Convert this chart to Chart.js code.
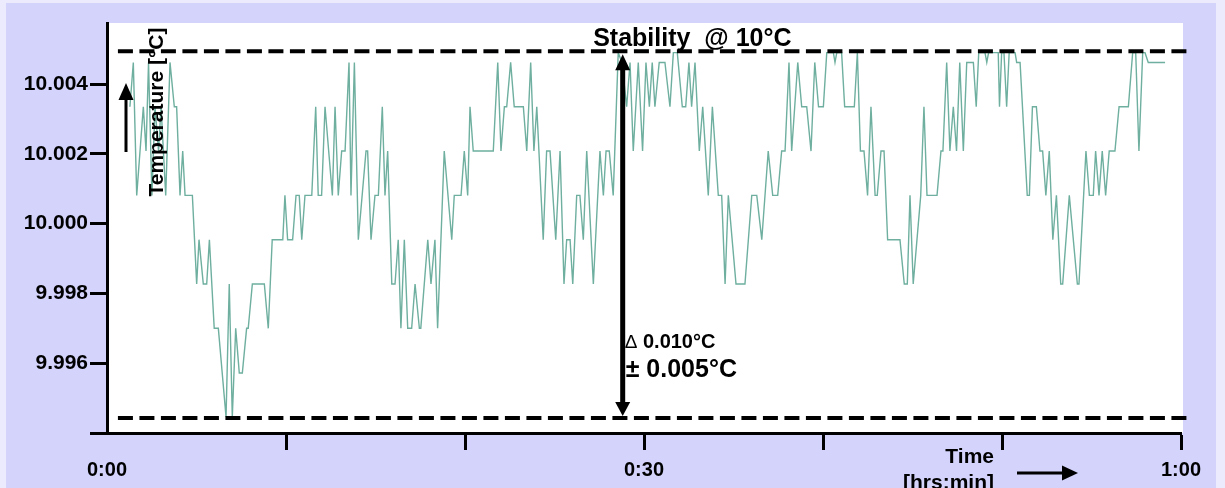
<!DOCTYPE html>
<html>
<head>
<meta charset="utf-8">
<title>Stability @ 10°C</title>
<script src="https://cdn.jsdelivr.net/npm/chart.js@4.4.1/dist/chart.umd.min.js"></script>
<style>
    html, body { margin: 0; padding: 0; background: #ebebfd; }
    #wrap { position: relative; width: 1225px; height: 488px; overflow: hidden; }
    #stabilityChart { position: absolute; left: 0; top: 0; }
</style>
</head>
<body>
<div id="wrap"><canvas id="stabilityChart" width="1225" height="488"></canvas></div>
<script>
// sample times in minutes
const times = [
    1.28, 1.47, 1.66, 2.03, 2.18, 2.32, 2.51, 2.68, 2.88, 3.02,
    3.28, 3.52, 3.76, 3.89, 4.08, 4.23, 4.36, 4.77, 5.01, 5.14,
    5.38, 5.57, 5.72, 5.99, 6.22, 6.65, 6.83, 7.00, 7.19, 7.39,
    7.56, 7.80, 7.89, 8.12, 8.79, 9.01, 9.23, 9.82, 9.94, 10.09,
    10.37, 10.56, 10.74, 10.88, 11.06, 11.44, 11.66, 11.80, 11.99, 12.18,
    12.59, 12.74, 12.92, 13.11, 13.30, 13.52, 13.63, 13.82, 14.04, 14.47,
    14.56, 14.75, 14.97, 15.16, 15.38, 15.53, 15.68, 15.91, 16.09, 16.27,
    16.42, 16.61, 16.80, 17.02, 17.21, 17.45, 17.53, 17.92, 18.10, 18.32,
    18.47, 18.84, 19.26, 19.40, 19.78, 19.96, 20.15, 20.28, 20.46, 21.58,
    21.83, 22.01, 22.20, 22.33, 22.55, 22.75, 23.26, 23.45, 23.67, 23.85,
    24.01, 24.37, 24.56, 24.75, 25.07, 25.31, 25.53, 25.68, 25.87, 26.02,
    26.24, 26.42, 26.61, 26.80, 27.17, 27.54, 27.73, 27.88, 28.06, 28.28,
    28.56, 28.77, 29.03, 29.22, 29.40, 29.68, 29.92, 30.11, 30.30, 30.46,
    30.61, 30.85, 31.17, 31.45, 31.64, 31.86, 32.14, 32.33, 32.51, 32.66,
    32.85, 33.09, 33.28, 33.59, 33.82, 34.15, 34.34, 34.53, 34.71, 35.14,
    35.64, 36.02, 36.30, 36.58, 36.94, 37.19, 37.47, 37.69, 37.88, 38.10,
    38.25, 38.59, 38.81, 39.09, 39.33, 39.54, 39.75, 40.02, 40.21, 40.58,
    40.67, 40.77, 41.04, 41.21, 41.75, 41.92, 42.09, 42.29, 42.49, 42.68,
    42.91, 43.03, 43.24, 43.41, 43.61, 44.30, 44.54, 44.71, 44.86, 45.04,
    45.46, 45.64, 45.81, 46.37, 46.59, 46.70, 46.91, 47.09, 47.28, 47.46,
    47.64, 47.84, 48.03, 48.40, 48.56, 48.70, 49.05, 49.15, 49.25, 49.79,
    49.86, 49.98, 50.11, 50.26, 50.40, 50.73, 50.82, 51.01, 51.41, 51.53,
    51.70, 51.92, 52.12, 52.27, 52.45, 52.64, 52.84, 53.04, 53.28, 53.39,
    53.76, 54.21, 54.30, 54.69, 54.88, 55.10, 55.23, 55.42, 55.60, 55.79,
    55.99, 56.31, 56.54, 57.06, 57.30, 57.47, 57.65, 57.86, 57.99, 58.17,
    59.11
];

// temperature readings in °C
const temps = [
    10.00335, 10.00462, 10.00081, 10.00335, 10.00208, 10.00462, 10.00081, 10.00335, 10.00208, 10.00335,
    10.00081, 10.00462, 10.00335, 10.00335, 10.00081, 10.00208, 10.00081, 10.00081, 9.99827, 9.99954,
    9.99827, 9.99827, 9.99954, 9.99700, 9.99700, 9.99446, 9.99827, 9.99446, 9.99700, 9.99572,
    9.99572, 9.99700, 9.99700, 9.99827, 9.99827, 9.99700, 9.99954, 9.99954, 10.00081, 9.99954,
    9.99954, 10.00081, 10.00081, 9.99954, 10.00081, 10.00081, 10.00335, 10.00081, 10.00081, 10.00335,
    10.00081, 10.00335, 10.00081, 10.00208, 10.00208, 10.00462, 10.00081, 10.00462, 9.99954, 10.00208,
    10.00208, 9.99954, 10.00081, 10.00081, 10.00335, 10.00081, 10.00208, 9.99827, 9.99827, 9.99954,
    9.99700, 9.99954, 9.99700, 9.99700, 9.99827, 9.99700, 9.99700, 9.99954, 9.99827, 9.99954,
    9.99700, 10.00208, 9.99954, 10.00081, 10.00081, 10.00208, 10.00081, 10.00335, 10.00208, 10.00208,
    10.00462, 10.00208, 10.00335, 10.00335, 10.00462, 10.00335, 10.00335, 10.00208, 10.00462, 10.00208,
    10.00335, 9.99954, 10.00208, 10.00208, 9.99954, 10.00208, 9.99827, 9.99954, 9.99954, 9.99827,
    10.00081, 10.00081, 9.99954, 10.00208, 9.99827, 10.00208, 10.00081, 10.00208, 10.00208, 10.00081,
    10.00490, 10.00462, 10.00335, 10.00462, 10.00208, 10.00462, 10.00208, 10.00462, 10.00335, 10.00462,
    10.00335, 10.00462, 10.00462, 10.00335, 10.00490, 10.00490, 10.00335, 10.00335, 10.00462, 10.00335,
    10.00462, 10.00208, 10.00335, 10.00081, 10.00335, 10.00081, 10.00081, 9.99827, 10.00081, 9.99827,
    9.99827, 10.00081, 10.00081, 9.99954, 10.00208, 10.00081, 10.00081, 10.00208, 10.00208, 10.00462,
    10.00208, 10.00462, 10.00335, 10.00335, 10.00208, 10.00462, 10.00335, 10.00335, 10.00490, 10.00490,
    10.00462, 10.00490, 10.00490, 10.00335, 10.00335, 10.00490, 10.00208, 10.00208, 10.00081, 10.00335,
    10.00081, 10.00081, 10.00208, 10.00208, 9.99954, 9.99954, 9.99827, 9.99827, 10.00081, 9.99827,
    10.00081, 10.00335, 10.00081, 10.00081, 10.00208, 10.00208, 10.00462, 10.00208, 10.00335, 10.00208,
    10.00462, 10.00208, 10.00462, 10.00462, 10.00335, 10.00490, 10.00490, 10.00462, 10.00490, 10.00490,
    10.00335, 10.00490, 10.00490, 10.00335, 10.00490, 10.00490, 10.00462, 10.00462, 10.00081, 10.00081,
    10.00335, 10.00335, 10.00208, 10.00208, 10.00081, 10.00208, 9.99954, 10.00081, 9.99827, 9.99827,
    10.00081, 9.99827, 9.99827, 10.00208, 10.00081, 10.00081, 10.00208, 10.00081, 10.00208, 10.00081,
    10.00208, 10.00208, 10.00335, 10.00335, 10.00490, 10.00490, 10.00208, 10.00490, 10.00490, 10.00462,
    10.00462
];

const yTickValues = [9.994, 9.996, 9.998, 10.000, 10.002, 10.004];
const xTickValues = [0, 10, 20, 30, 40, 50, 60];
const xTickLabels = { 0: '0:00', 30: '0:30', 60: '1:00' };

// stability band (±0.005 °C around the set point)
const upperLimit = 10.00494;
const lowerLimit = 9.99443;
const limitTimes = [0.61, 60.5];
const bandArrowTime = 28.81;

const FONT = "'Liberation Sans', Arial, sans-serif";

function arrowHead(ctx, x, y, dir, w, h) {
    ctx.beginPath();
    if (dir === 'up') {
        ctx.moveTo(x, y); ctx.lineTo(x - w / 2, y + h); ctx.lineTo(x + w / 2, y + h);
    } else if (dir === 'down') {
        ctx.moveTo(x, y); ctx.lineTo(x - w / 2, y - h); ctx.lineTo(x + w / 2, y - h);
    } else {
        ctx.moveTo(x, y); ctx.lineTo(x - h, y - w / 2); ctx.lineTo(x - h, y + w / 2);
    }
    ctx.closePath();
    ctx.fill();
}

const backdrop = {
    id: 'backdrop',
    beforeDraw(chart) {
        const { ctx, chartArea: a } = chart;
        ctx.save();
        ctx.fillStyle = '#ebebfd';
        ctx.fillRect(0, 0, chart.width, chart.height);
        ctx.fillStyle = '#d3d3fc';
        ctx.fillRect(6, 3, 1210, 485);
        ctx.fillStyle = '#ffffff';
        ctx.fillRect(a.left, a.top, a.right - a.left + 2, a.bottom - a.top);
        ctx.restore();
    }
};

const annotations = {
    id: 'annotations',
    afterDraw(chart) {
        const { ctx, chartArea: a } = chart;
        const xs = chart.scales.x;
        const ys = chart.scales.y;
        const upY = ys.getPixelForValue(upperLimit);
        const loY = ys.getPixelForValue(lowerLimit);
        const ax = xs.getPixelForValue(bandArrowTime);

        ctx.save();
        ctx.fillStyle = '#000';
        ctx.strokeStyle = '#000';

        // span arrow between the limits
        ctx.fillRect(ax - 2.5, upY + 14, 5, loY - upY - 26);
        arrowHead(ctx, ax, upY + 3, 'up', 15, 16);
        arrowHead(ctx, ax, loY - 2, 'down', 15, 14);

        // title
        ctx.textBaseline = 'alphabetic';
        ctx.textAlign = 'center';
        ctx.font = 'bold 25px ' + FONT;
        ctx.fillText('Stability  @ 10°C', xs.getPixelForValue(32.7), upY - 5);

        // band labels
        ctx.textAlign = 'left';
        ctx.font = '19px ' + FONT;
        ctx.fillText('Δ', ax + 2, loY - 70);
        const dw = ctx.measureText('Δ').width;
        ctx.font = 'bold 20px ' + FONT;
        ctx.fillText(' 0.010°C', ax + 2 + dw, loY - 70);
        ctx.font = 'bold 25px ' + FONT;
        ctx.fillText('± 0.005°C', ax + 3, loY - 41);

        // y axis title with arrow
        ctx.save();
        ctx.translate(a.left + 56, 112);
        ctx.rotate(-Math.PI / 2);
        ctx.textAlign = 'center';
        ctx.font = 'bold 21px ' + FONT;
        ctx.fillText('Temperature [°C]', 0, 0);
        ctx.restore();
        ctx.fillRect(a.left + 17.5, 98, 3, 54);
        arrowHead(ctx, a.left + 19, 83, 'up', 15, 17);

        // x axis title with arrow
        ctx.textAlign = 'right';
        ctx.font = 'bold 21px ' + FONT;
        ctx.fillText('Time', 994, 463);
        ctx.fillText('[hrs:min]', 994, 489);
        ctx.fillRect(1017, 471.5, 47, 3);
        arrowHead(ctx, 1078, 473, 'right', 15, 16);

        ctx.restore();
    }
};

const limitLine = (value) => ({
    data: limitTimes.map(t => ({ x: t, y: value })),
    borderColor: '#000',
    borderWidth: 4,
    borderDash: [15, 6.5],
    pointRadius: 0,
    clip: false
});

const axisFont = { family: FONT, weight: 'bold' };

new Chart(document.getElementById('stabilityChart'), {
    type: 'line',
    data: {
        datasets: [
            limitLine(upperLimit),
            limitLine(lowerLimit),
            {
                label: 'Temperature',
                data: times.map((t, i) => ({ x: t, y: temps[i] })),
                borderColor: '#6eaf9f',
                borderWidth: 1.4,
                pointRadius: 0,
                tension: 0
            }
        ]
    },
    options: {
        responsive: false,
        animation: false,
        devicePixelRatio: 1,
        events: [],
        layout: { padding: { left: 6, top: 23, right: 44, bottom: 0 } },
        plugins: {
            legend: { display: false },
            tooltip: { enabled: false }
        },
        scales: {
            x: {
                type: 'linear',
                min: 0,
                max: 60,
                afterFit: (s) => { s.height = 55; },
                afterBuildTicks: (s) => { s.ticks = xTickValues.map(v => ({ value: v })); },
                ticks: {
                    callback: (v) => xTickLabels[v] || '',
                    font: { ...axisFont, size: 20 },
                    color: '#000',
                    padding: 8,
                    maxRotation: 0,
                    autoSkip: false
                },
                grid: {
                    drawOnChartArea: false,
                    drawTicks: true,
                    tickLength: 17,
                    tickWidth: 3,
                    tickColor: (c) => (c.tick && c.tick.value === 0 ? 'rgba(0,0,0,0)' : '#000')
                },
                border: { display: true, color: '#000', width: 3 }
            },
            y: {
                min: 9.994,
                max: 10.00575,
                afterFit: (s) => { s.width = 101; },
                afterBuildTicks: (s) => { s.ticks = yTickValues.map(v => ({ value: v })); },
                ticks: {
                    callback: (v) => (v < 9.995 ? '' : Number(v).toFixed(3)),
                    font: { ...axisFont, size: 21 },
                    color: '#000',
                    padding: 2,
                    autoSkip: false
                },
                grid: {
                    drawOnChartArea: false,
                    drawTicks: true,
                    tickLength: 17,
                    tickWidth: 3,
                    tickColor: '#000'
                },
                border: { display: true, color: '#000', width: 3 }
            }
        }
    },
    plugins: [backdrop, annotations]
});
</script>
</body>
</html>
